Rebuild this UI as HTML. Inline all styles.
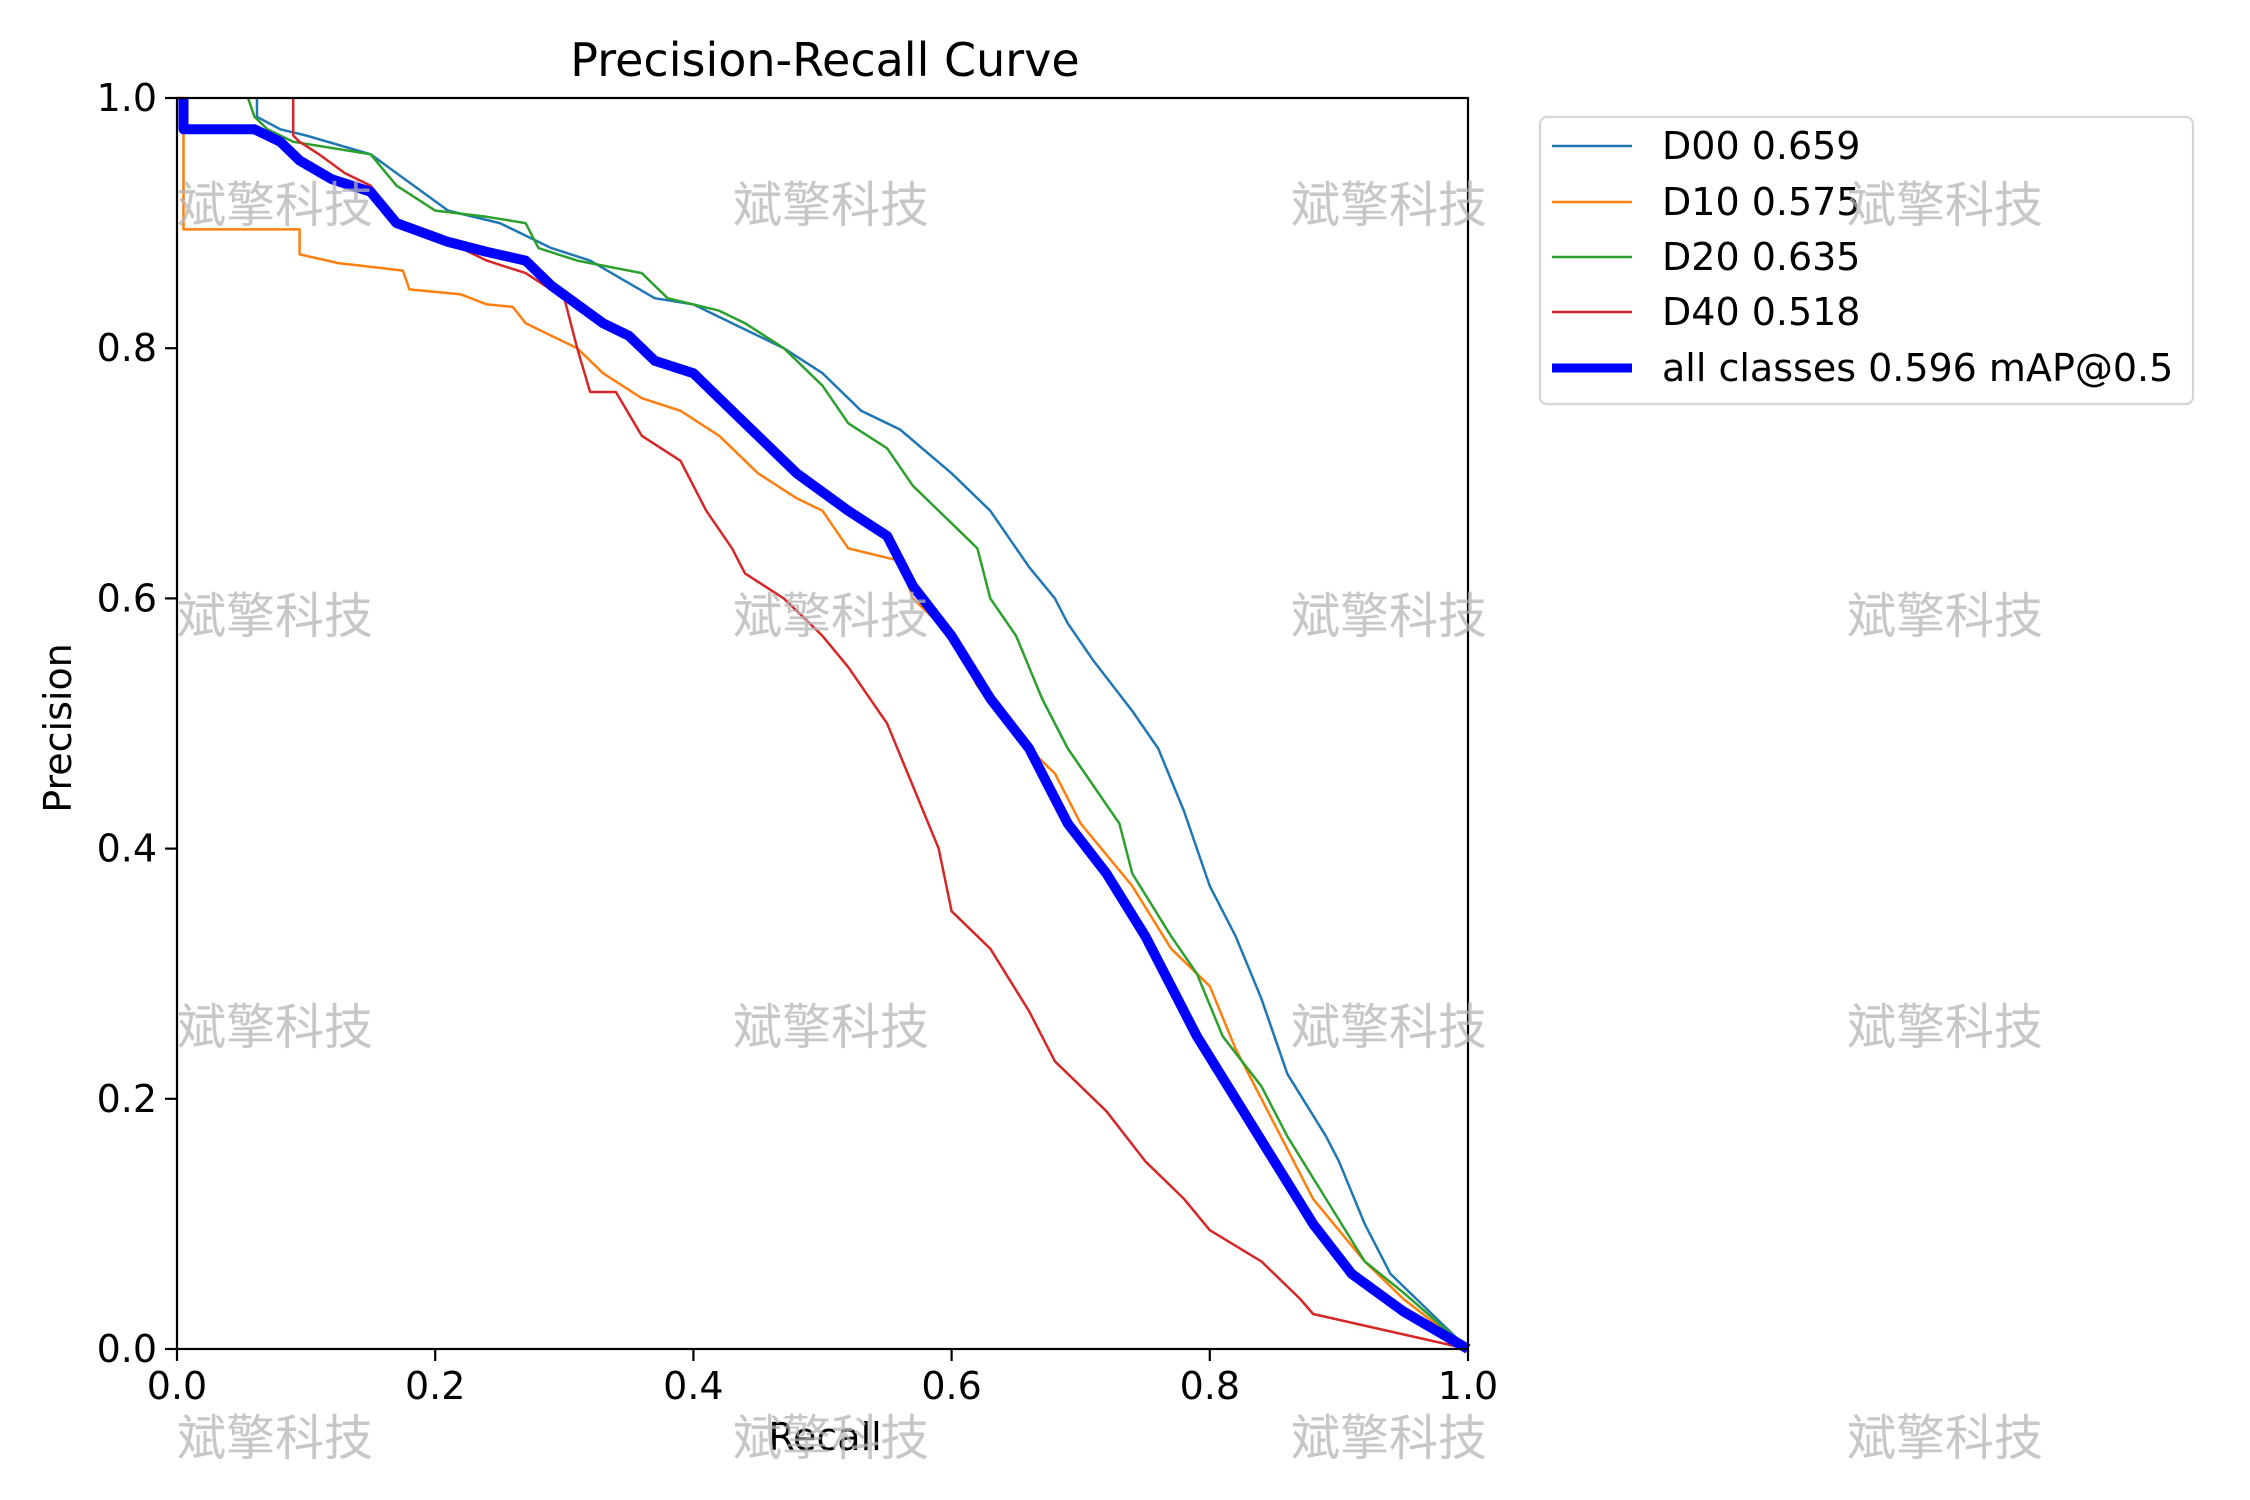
<!DOCTYPE html>
<html><head><meta charset="utf-8"><style>
html,body{margin:0;padding:0;background:#fff;}
svg{display:block;font-family:"DejaVu Sans","Liberation Sans","Noto Sans CJK SC",sans-serif;}
</style></head><body>
<svg id="chart" width="2250" height="1500" viewBox="0 0 2250 1500" xmlns="http://www.w3.org/2000/svg">
<rect x="0" y="0" width="2250" height="1500" fill="#fff"/>
<text x="825" y="76" font-size="46" text-anchor="middle">Precision-Recall Curve</text>
<g id="plot"></g>
<text x="825" y="1450" font-size="38" text-anchor="middle">Recall</text>
<text x="0" y="0" font-size="38" text-anchor="middle" transform="translate(71,728) rotate(-90)">Precision</text>
<g id="legend"></g>
<g id="wm"></g>
</svg>
<script>
const xTicks = [0, 0.2, 0.4, 0.6, 0.8, 1.0];
const yTicks = [0, 0.2, 0.4, 0.6, 0.8, 1.0];
const tickLabels = ["0.0", "0.2", "0.4", "0.6", "0.8", "1.0"];
const seriesNames = ["D00 0.659", "D10 0.575", "D20 0.635", "D40 0.518", "all classes 0.596 mAP@0.5"];
const d00R = [0.062,0.062,0.08,0.10,0.15,0.17,0.21,0.25,0.29,0.32,0.37,0.40,0.43,0.47,0.50,0.53,0.56,0.60,0.63,0.66,0.68,0.69,0.71,0.74,0.76,0.78,0.80,0.82,0.84,0.86,0.89,0.90,0.92,0.94,0.96,1.0];
const d00P = [1.0,0.985,0.975,0.97,0.955,0.94,0.91,0.90,0.88,0.87,0.84,0.835,0.82,0.80,0.78,0.75,0.735,0.70,0.67,0.625,0.60,0.58,0.55,0.51,0.48,0.43,0.37,0.33,0.28,0.22,0.17,0.15,0.10,0.06,0.04,0.0];
const d10R = [0.0,0.005,0.005,0.095,0.095,0.125,0.175,0.18,0.22,0.24,0.26,0.27,0.31,0.33,0.36,0.39,0.42,0.45,0.48,0.50,0.52,0.56,0.57,0.60,0.62,0.65,0.68,0.70,0.74,0.77,0.80,0.82,0.85,0.88,0.92,0.95,1.0];
const d10P = [1.0,1.0,0.895,0.895,0.875,0.868,0.862,0.847,0.843,0.835,0.833,0.82,0.80,0.78,0.76,0.75,0.73,0.70,0.68,0.67,0.64,0.63,0.60,0.57,0.53,0.49,0.46,0.42,0.37,0.32,0.29,0.24,0.18,0.12,0.07,0.04,0.0];
const d20R = [0.055,0.06,0.07,0.09,0.12,0.15,0.17,0.20,0.24,0.27,0.28,0.31,0.36,0.38,0.42,0.44,0.47,0.50,0.52,0.55,0.57,0.60,0.62,0.63,0.65,0.67,0.69,0.71,0.73,0.74,0.77,0.79,0.81,0.84,0.86,0.89,0.92,0.95,1.0];
const d20P = [1.0,0.985,0.975,0.965,0.96,0.955,0.93,0.91,0.905,0.90,0.88,0.87,0.86,0.84,0.83,0.82,0.80,0.77,0.74,0.72,0.69,0.66,0.64,0.60,0.57,0.52,0.48,0.45,0.42,0.38,0.33,0.30,0.25,0.21,0.17,0.12,0.07,0.045,0.0];
const d40R = [0.09,0.09,0.095,0.11,0.13,0.15,0.17,0.22,0.24,0.27,0.30,0.31,0.32,0.34,0.36,0.39,0.41,0.43,0.44,0.47,0.50,0.52,0.55,0.57,0.59,0.60,0.63,0.66,0.68,0.72,0.75,0.78,0.80,0.84,0.87,0.88,1.0];
const d40P = [1.0,0.97,0.965,0.955,0.94,0.93,0.90,0.88,0.87,0.86,0.84,0.80,0.765,0.765,0.73,0.71,0.67,0.64,0.62,0.60,0.57,0.545,0.50,0.45,0.40,0.35,0.32,0.27,0.23,0.19,0.15,0.12,0.095,0.07,0.04,0.028,0.0];
const allR = [0.005,0.005,0.06,0.08,0.095,0.12,0.15,0.17,0.21,0.24,0.27,0.29,0.33,0.35,0.37,0.40,0.43,0.46,0.48,0.52,0.55,0.57,0.60,0.63,0.66,0.69,0.72,0.75,0.77,0.79,0.82,0.85,0.88,0.91,0.95,1.0];
const allP = [1.0,0.975,0.975,0.965,0.95,0.935,0.925,0.90,0.885,0.877,0.87,0.85,0.82,0.81,0.79,0.78,0.75,0.72,0.70,0.67,0.65,0.61,0.57,0.52,0.48,0.42,0.38,0.33,0.29,0.25,0.20,0.15,0.10,0.06,0.03,0.0];

const NS = "http://www.w3.org/2000/svg";
const L = 177, R = 1468, T = 98, B = 1349;
const sx = v => L + v * (R - L);
const sy = v => B - v * (B - T);
const plot = document.getElementById('plot');
function mk(tag, attrs, parent) {
  const e = document.createElementNS(NS, tag);
  for (const k in attrs) e.setAttribute(k, attrs[k]);
  parent.appendChild(e);
  return e;
}
const colors = ["#1f77b4", "#ff7f0e", "#2ca02c", "#d62728", "#0000ff"];
const widths = [2.5, 2.5, 2.5, 2.5, 10];
const series = [[d00R, d00P], [d10R, d10P], [d20R, d20P], [d40R, d40P], [allR, allP]];
const lineNames = ["d00-line", "d10-line", "d20-line", "d40-line", "all-classes-line"];
series.forEach((s, i) => {
  const pts = s[0].map((r, j) => sx(r).toFixed(1) + "," + sy(s[1][j]).toFixed(1)).join(" ");
  const pl = mk('polyline', {points: pts, fill: 'none', stroke: colors[i], 'stroke-width': widths[i], 'stroke-linejoin': 'round', 'stroke-linecap': 'butt'}, plot);
  
  
});
const frame = mk('rect', {x: L, y: T, width: R - L, height: B - T, fill: 'none', stroke: '#000', 'stroke-width': 2.2}, plot);


xTicks.forEach((v, i) => {
  const t = mk('line', {x1: sx(v), x2: sx(v), y1: B, y2: B + 12, stroke: '#000', 'stroke-width': 2.2}, plot);
  
  
  const tl = mk('text', {x: sx(v), y: B + 50, 'font-size': 38, 'text-anchor': 'middle'}, plot);
  tl.textContent = tickLabels[i];
  
  
});
yTicks.forEach((v, i) => {
  const t = mk('line', {x1: L - 12, x2: L, y1: sy(v), y2: sy(v), stroke: '#000', 'stroke-width': 2.2}, plot);
  
  
  const tl = mk('text', {x: L - 20, y: sy(v) + 13, 'font-size': 38, 'text-anchor': 'end'}, plot);
  tl.textContent = tickLabels[i];
  
  
});
const lg = document.getElementById('legend');
const box = mk('rect', {x: 1540, y: 117, width: 653, height: 287, rx: 7, fill: '#fff', 'fill-opacity': 0.8, stroke: '#d6d6d6', 'stroke-width': 2.2}, lg);


const rowY = [146, 202, 257, 312, 368];
seriesNames.forEach((n, i) => {
  const ln = mk('line', {x1: 1552, x2: 1632, y1: rowY[i], y2: rowY[i], stroke: colors[i], 'stroke-width': widths[i] === 10 ? 9 : 2.5}, lg);
  
  
  const tx = mk('text', {x: 1662, y: rowY[i] + 13, 'font-size': 38}, lg);
  tx.textContent = n;
  
  
});
const wm = document.getElementById('wm');
[177, 733, 1291, 1847].forEach(x => {
  [205, 616, 1027, 1438].forEach(y => {
    const w = mk('text', {x: x, y: y + 17, 'font-size': 49, fill: '#b4b4b4', 'fill-opacity': 0.75, 'font-family': '"Noto Sans CJK SC", sans-serif'}, wm);
    w.textContent = "斌擎科技";
    
    
  });
});
</script>
</body></html>
